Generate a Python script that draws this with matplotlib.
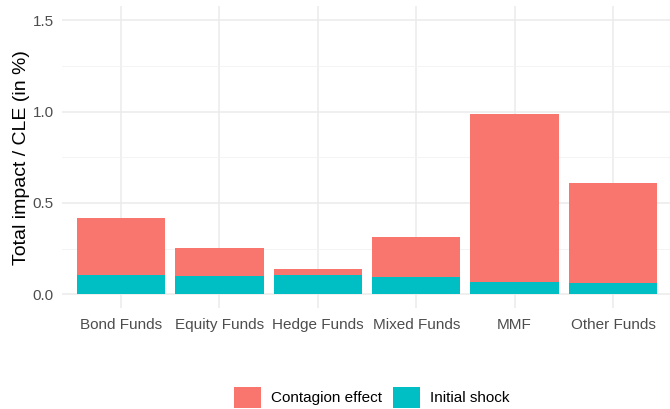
import matplotlib
matplotlib.use("Agg")
import matplotlib.pyplot as plt
from matplotlib.patches import Patch
import numpy as np

categories = ["Bond Funds", "Equity Funds", "Hedge Funds", "Mixed Funds", "MMF", "Other Funds"]
initial_shock = [0.104, 0.100, 0.104, 0.095, 0.070, 0.062]
contagion_effect = [0.316, 0.153, 0.033, 0.217, 0.917, 0.547]
y_ticks = [0.0, 0.5, 1.0, 1.5]
y_tick_labels = ["0.0", "0.5", "1.0", "1.5"]

col_contagion = "#F8766D"
col_initial = "#00BFC4"

plt.rcParams['font.family'] = ['Liberation Sans', 'DejaVu Sans']

W, H = 670, 409
fig = plt.figure(figsize=(W / 100, H / 100), dpi=100)
left_px, right_px = 62, 672
top_px, bot_px = 6.3, 308.2
ax = fig.add_axes([left_px / W, 1 - bot_px / H, (right_px - left_px) / W, (bot_px - top_px) / H])

x = np.arange(len(categories))
ax.bar(x, initial_shock, width=0.9, color=col_initial, zorder=3, linewidth=0)
ax.bar(x, contagion_effect, width=0.9, bottom=initial_shock, color=col_contagion, zorder=3, linewidth=0)

ax.set_xlim(-0.6, len(categories) - 0.4)
ax.set_ylim(-0.075, 1.575)
ax.set_xticks(x)
ax.set_xticklabels(categories, fontsize=11, color="#4D4D4D")
ax.set_yticks(y_ticks)
ax.set_yticklabels(y_tick_labels, fontsize=11, color="#4D4D4D")
ax.set_yticks([0.25, 0.75, 1.25], minor=True)
ax.tick_params(axis='both', which='both', length=0)
ax.tick_params(axis='x', pad=7)
ax.tick_params(axis='y', pad=6)

ax.grid(True, which='major', color="#EBEBEB", linewidth=1.1, zorder=0)
ax.grid(True, which='minor', axis='y', color="#F2F2F2", linewidth=0.6, zorder=0)
for s in ax.spines.values():
    s.set_visible(False)

ax.set_ylabel("Total impact / CLE (in %)", fontsize=14, color="black", labelpad=2)

handles = [Patch(facecolor=col_contagion, edgecolor='none', label="Contagion effect"),
           Patch(facecolor=col_initial, edgecolor='none', label="Initial shock")]
fig.legend(handles=handles, loc='center', bbox_to_anchor=(372 / W, 1 - 397.5 / H), ncol=2,
           frameon=False, fontsize=11, handlelength=1.75, handleheight=1.75,
           handletextpad=0.65, columnspacing=0.75, borderaxespad=0)

fig.savefig("out.png", dpi=100)
